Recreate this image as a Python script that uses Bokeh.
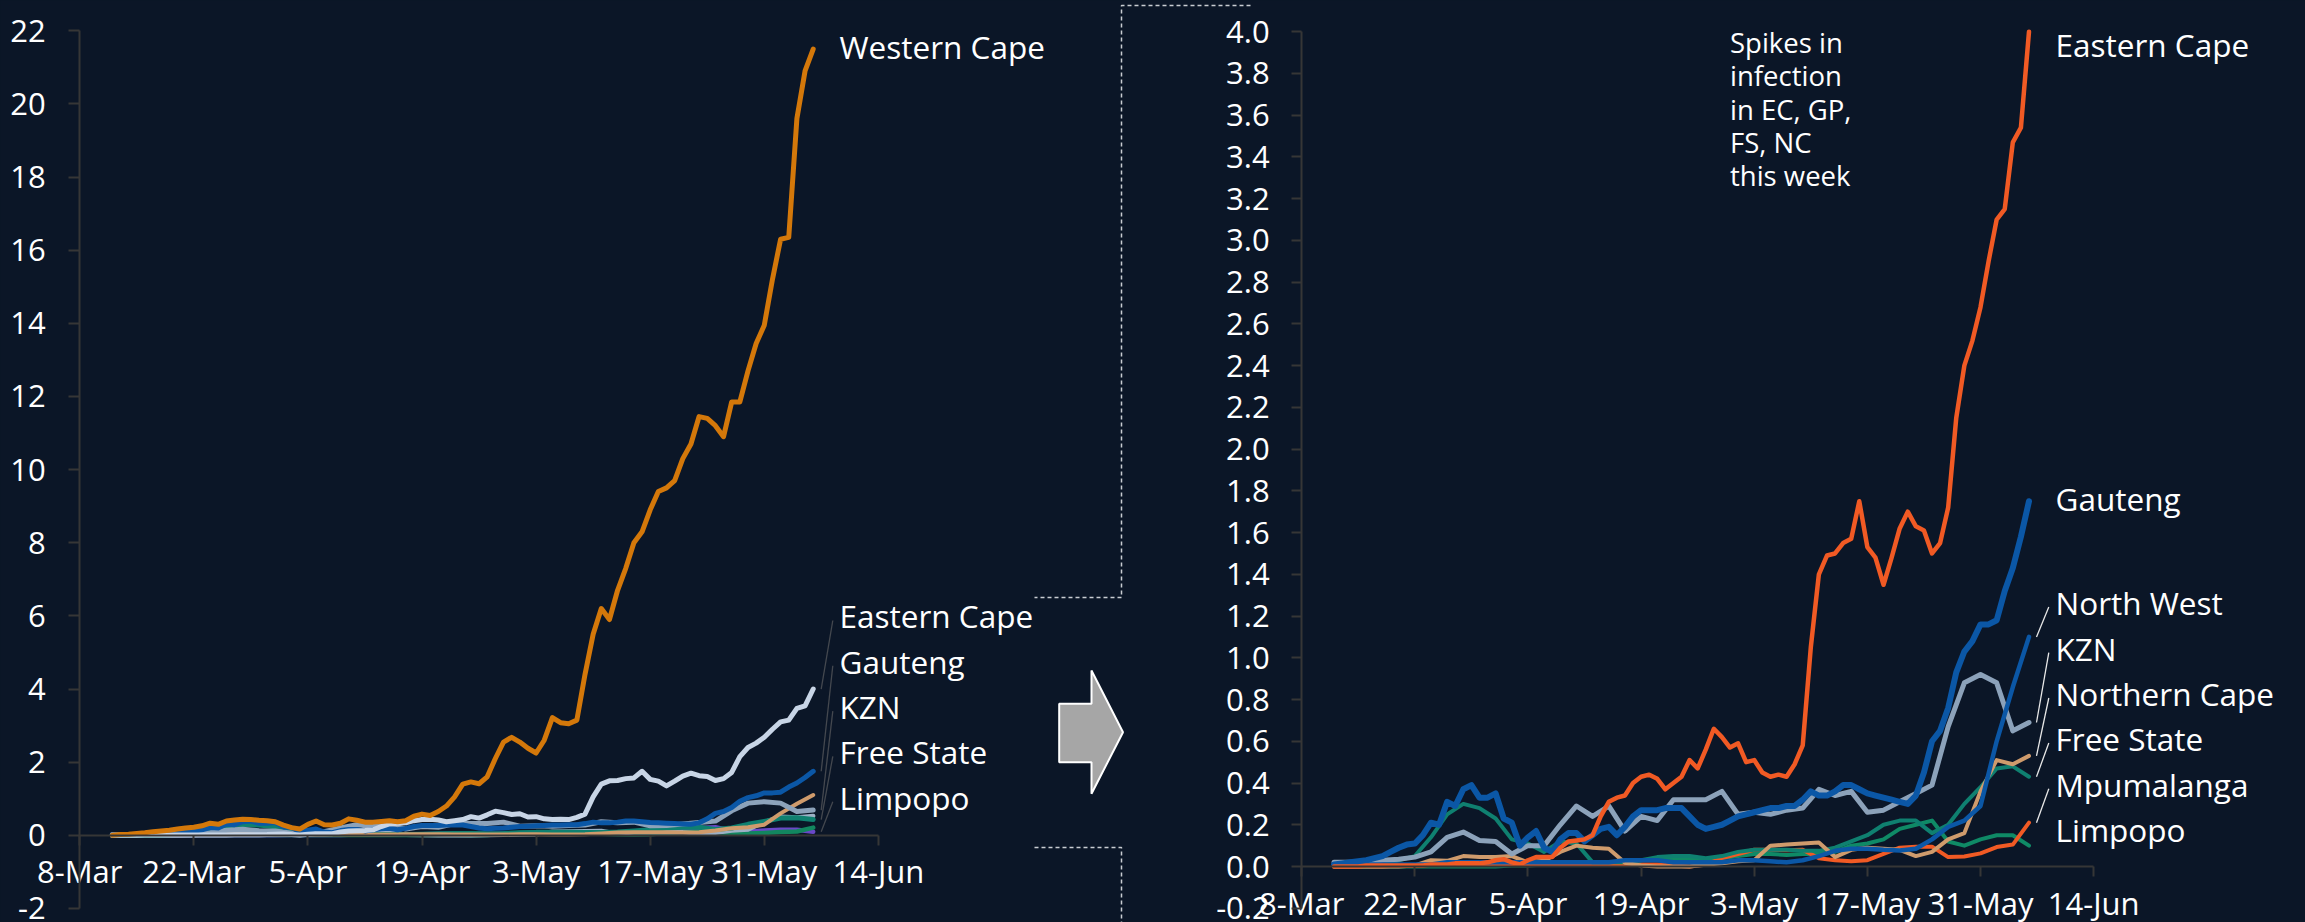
import pandas as pd
from bokeh.plotting import figure
from bokeh.models import Range1d, LinearAxis, FixedTicker, NumeralTickFormatter, ColumnDataSource
from bokeh.core.properties import value
from bokeh.embed import file_html
from bokeh.resources import INLINE

# ---------------- data ----------------
origin = pd.Timestamp("2020-03-08")
daily_dates = pd.date_range("2020-03-12", "2020-06-06", freq="D")
twoday_dates = pd.date_range("2020-03-12", "2020-06-06", freq="2D")

# daily series
western_cape = [
    0.00, 0.02, 0.03, 0.05, 0.07, 0.10, 0.12, 0.14, 0.17, 0.20,
    0.22, 0.26, 0.33, 0.30, 0.39, 0.42, 0.44, 0.43, 0.41, 0.40,
    0.37, 0.28, 0.21, 0.17, 0.30, 0.39, 0.29, 0.28, 0.33, 0.45,
    0.41, 0.36, 0.36, 0.38, 0.40, 0.37, 0.40, 0.52, 0.58, 0.54,
    0.65, 0.80, 1.05, 1.40, 1.46, 1.41, 1.60, 2.10, 2.55, 2.68,
    2.55, 2.38, 2.25, 2.60, 3.22, 3.08, 3.05, 3.15, 4.40, 5.50,
    6.20, 5.90, 6.70, 7.30, 8.00, 8.30, 8.90, 9.40, 9.50, 9.70,
    10.30, 10.70, 11.45, 11.40, 11.20, 10.90, 11.85, 11.85, 12.70, 13.45,
    13.95, 15.20, 16.30, 16.35, 19.60, 20.90, 21.50]
eastern_cape = [
    0.00, 0.00, 0.00, 0.00, 0.005, 0.005, 0.005, 0.005, 0.005, 0.005,
    0.005, 0.005, 0.01, 0.01, 0.01, 0.015, 0.015, 0.015, 0.015, 0.02,
    0.03, 0.035, 0.02, 0.01, 0.03, 0.045, 0.045, 0.045, 0.09, 0.12,
    0.125, 0.13, 0.15, 0.24, 0.31, 0.33, 0.34, 0.40, 0.43, 0.44,
    0.42, 0.37, 0.40, 0.43, 0.51, 0.47, 0.56, 0.66, 0.62, 0.57,
    0.59, 0.50, 0.51, 0.45, 0.43, 0.44, 0.43, 0.49, 0.58, 1.05,
    1.40, 1.49, 1.50, 1.55, 1.57, 1.75, 1.53, 1.48, 1.35, 1.48,
    1.62, 1.70, 1.63, 1.61, 1.50, 1.55, 1.72, 2.15, 2.40, 2.52,
    2.68, 2.90, 3.10, 3.15, 3.47, 3.54, 4.00]
gauteng = [
    0.01, 0.015, 0.02, 0.025, 0.03, 0.04, 0.05, 0.07, 0.09, 0.105,
    0.11, 0.15, 0.21, 0.20, 0.31, 0.29, 0.37, 0.39, 0.33, 0.33,
    0.35, 0.23, 0.21, 0.10, 0.14, 0.17, 0.09, 0.07, 0.13, 0.16,
    0.16, 0.12, 0.15, 0.18, 0.19, 0.15, 0.19, 0.24, 0.27, 0.27,
    0.27, 0.28, 0.28, 0.28, 0.24, 0.20, 0.18, 0.19, 0.20, 0.22,
    0.24, 0.25, 0.26, 0.27, 0.28, 0.28, 0.29, 0.29, 0.32, 0.36,
    0.34, 0.34, 0.36, 0.39, 0.39, 0.37, 0.35, 0.34, 0.33, 0.32,
    0.31, 0.30, 0.34, 0.45, 0.60, 0.65, 0.76, 0.93, 1.03, 1.08,
    1.16, 1.16, 1.18, 1.32, 1.43, 1.58, 1.75]

# every-second-day series
kzn = [0.02, 0.02, 0.025, 0.03, 0.035, 0.045, 0.07, 0.14, 0.165, 0.125, 0.12,
       0.06, 0.10, 0.10, 0.20, 0.29, 0.24, 0.29, 0.17, 0.24, 0.22, 0.32,
       0.32, 0.32, 0.36, 0.25, 0.26, 0.25, 0.27, 0.28, 0.37, 0.34, 0.36,
       0.26, 0.27, 0.31, 0.35, 0.39, 0.67, 0.88, 0.92, 0.88, 0.65, 0.69]
north_west = [0.01, 0.01, 0.01, 0.01, 0.01, 0.01, 0.01, 0.02, 0.02, 0.02, 0.02,
              0.02, 0.02, 0.02, 0.02, 0.02, 0.02, 0.02, 0.03, 0.03, 0.03, 0.02,
              0.02, 0.02, 0.02, 0.03, 0.03, 0.025, 0.02, 0.03, 0.05, 0.075, 0.085,
              0.085, 0.08, 0.077, 0.085, 0.13, 0.19, 0.22, 0.29, 0.60, 0.86, 1.10]
northern_cape = [0.0, 0.0, 0.0, 0.0, 0.0, 0.005, 0.03, 0.027, 0.05, 0.045, 0.045,
                 0.05, 0.02, 0.028, 0.07, 0.10, 0.09, 0.085, 0.018, 0.005, 0.0, 0.0,
                 0.0, 0.008, 0.015, 0.025, 0.03, 0.10, 0.105, 0.11, 0.115, 0.045, 0.08,
                 0.09, 0.085, 0.08, 0.05, 0.07, 0.13, 0.16, 0.36, 0.51, 0.49, 0.53]
free_state = [0.0, 0.0, 0.0, 0.005, 0.03, 0.05, 0.14, 0.25, 0.30, 0.28, 0.23,
              0.13, 0.11, 0.07, 0.12, 0.11, 0.02, 0.02, 0.02, 0.03, 0.045, 0.05,
              0.05, 0.04, 0.05, 0.07, 0.08, 0.08, 0.08, 0.075, 0.075, 0.09, 0.12,
              0.15, 0.20, 0.22, 0.22, 0.16, 0.20, 0.30, 0.38, 0.47, 0.48, 0.43]
mpumalanga = [0.0, 0.0, 0.0, 0.0, 0.005, 0.005, 0.01, 0.01, 0.01, 0.01, 0.01,
              0.01, 0.01, 0.01, 0.01, 0.01, 0.01, 0.01, 0.01, 0.01, 0.01, 0.005,
              0.0, 0.01, 0.04, 0.06, 0.08, 0.08, 0.078, 0.08, 0.04, 0.03, 0.025,
              0.03, 0.06, 0.09, 0.095, 0.095, 0.045, 0.048, 0.063, 0.093, 0.105, 0.21]
limpopo = [0.0, 0.0, 0.0, 0.0, 0.0, 0.0, 0.0, 0.0, 0.0, 0.0, 0.0,
           0.005, 0.005, 0.01, 0.01, 0.02, 0.02, 0.02, 0.025, 0.03, 0.035, 0.04,
           0.04, 0.035, 0.04, 0.05, 0.06, 0.06, 0.055, 0.06, 0.06, 0.07, 0.10,
           0.11, 0.13, 0.18, 0.20, 0.22, 0.12, 0.10, 0.13, 0.15, 0.15, 0.10]

tick_dates = pd.date_range("2020-03-08", "2020-06-14", freq="14D")
tick_labels = ["8-Mar", "22-Mar", "5-Apr", "19-Apr", "3-May", "17-May", "31-May", "14-Jun"]
left_yticks = [-2, 0, 2, 4, 6, 8, 10, 12, 14, 16, 18, 20, 22]
right_yticks = [-0.2, 0.0, 0.2, 0.4, 0.6, 0.8, 1.0, 1.2, 1.4, 1.6, 1.8, 2.0,
                2.2, 2.4, 2.6, 2.8, 3.0, 3.2, 3.4, 3.6, 3.8, 4.0]

note_lines = ["Spikes in", "infection", "in EC, GP,", "FS, NC", "this week"]

series = {
    "Western Cape": (daily_dates, western_cape),
    "Eastern Cape": (daily_dates, eastern_cape),
    "Gauteng": (daily_dates, gauteng),
    "KZN": (twoday_dates, kzn),
    "North West": (twoday_dates, north_west),
    "Northern Cape": (twoday_dates, northern_cape),
    "Free State": (twoday_dates, free_state),
    "Mpumalanga": (twoday_dates, mpumalanga),
    "Limpopo": (twoday_dates, limpopo),
}

# ---------------- layout / style ----------------
W, H = 2305, 922
BG = "#0B1627"
AXC = "#363636"
FONT = "Open Sans"
TXT_SHIFT = 13.0   # svg text sits lower than the measured baseline

L_X0, L_PXD = 79.2, 8.15      # left chart: pixel of 8-Mar, px per day
L_Y0, L_PXU = 834.8, 36.57    # left chart: pixel of 0, px per unit
R_X0, R_PXD = 1301.2, 8.081   # right chart
R_Y0, R_PXU = 866.0, 208.7

left_style = [("Limpopo", "#6A48C8", 4.5), ("Mpumalanga", "#12865F", 4.5),
              ("Northern Cape", "#9CB0C5", 4.5), ("Free State", "#0F8070", 5),
              ("North West", "#CF9B6C", 4), ("KZN", "#8CA2BA", 5),
              ("Gauteng", "#0B57A6", 5), ("Eastern Cape", "#C8D5E6", 5),
              ("Western Cape", "#D4780A", 5)]
right_style = [("Limpopo", "#0F8A66", 4), ("Mpumalanga", "#F15A24", 4),
               ("Free State", "#0F8070", 4), ("Northern Cape", "#CF9B6C", 4),
               ("KZN", "#8CA2BA", 5), ("North West", "#0B57A6", 4.5),
               ("Gauteng", "#0B57A6", 6), ("Eastern Cape", "#F15A24", 4.5)]

p = figure(width=W, height=H, x_range=Range1d(0, W), y_range=Range1d(H, 0),
           x_axis_type=None, y_axis_type=None, toolbar_location=None,
           output_backend="svg", min_border=0,
           background_fill_color=BG, border_fill_color=BG, outline_line_color=None)
p.grid.visible = False

p.extra_x_ranges = {
    "lx": Range1d((0 - L_X0) / L_PXD, (W - L_X0) / L_PXD),
    "rx": Range1d((0 - R_X0) / R_PXD, (W - R_X0) / R_PXD),
}
p.extra_y_ranges = {
    "ly": Range1d((L_Y0 - H) / L_PXU, L_Y0 / L_PXU),
    "ry": Range1d((R_Y0 - H) / R_PXU, R_Y0 / R_PXU),
}


def days(dates):
    return [(d - origin).days for d in dates]


tick_days = days(tick_dates)
overrides = {d: lab for d, lab in zip(tick_days, tick_labels)}


def style_axis(ax, tick_out, standoff):
    ax.axis_line_color = AXC
    ax.axis_line_width = 2
    ax.major_tick_line_color = AXC
    ax.major_tick_line_width = 2
    ax.major_tick_out = tick_out
    ax.major_tick_in = 0
    ax.minor_tick_line_color = None
    ax.major_label_text_font = FONT
    ax.major_label_text_font_size = "31px"
    ax.major_label_text_color = "#FFFFFF"
    ax.major_label_standoff = standoff


# left chart axes
ax = LinearAxis(x_range_name="lx", y_range_name="ly", fixed_location=0, bounds=(-2, 22),
                ticker=FixedTicker(ticks=left_yticks), formatter=NumeralTickFormatter(format="0"))
style_axis(ax, 11, 23)
p.add_layout(ax, "left")
ax = LinearAxis(x_range_name="lx", y_range_name="ly", fixed_location=0,
                bounds=(tick_days[0], tick_days[-1]), ticker=FixedTicker(ticks=tick_days),
                major_label_overrides=overrides)
style_axis(ax, 10, 5)
p.add_layout(ax, "below")

# right chart axes
ax = LinearAxis(x_range_name="rx", y_range_name="ry", fixed_location=0,
                bounds=(right_yticks[0], right_yticks[-1]),
                ticker=FixedTicker(ticks=right_yticks), formatter=NumeralTickFormatter(format="0.0"))
style_axis(ax, 10, 22)
p.add_layout(ax, "left")
ax = LinearAxis(x_range_name="rx", y_range_name="ry", fixed_location=0,
                bounds=(tick_days[0], tick_days[-1]), ticker=FixedTicker(ticks=tick_days),
                major_label_overrides=overrides)
style_axis(ax, 10, 5)
p.add_layout(ax, "below")

# lines
for name, color, lw in left_style:
    dts, vals = series[name]
    src = ColumnDataSource(dict(x=days(dts), y=vals))
    p.line("x", "y", source=src, x_range_name="lx", y_range_name="ly",
           line_color=color, line_width=lw, line_join="round", line_cap="round")
for name, color, lw in right_style:
    dts, vals = series[name]
    src = ColumnDataSource(dict(x=days(dts), y=vals))
    p.line("x", "y", source=src, x_range_name="rx", y_range_name="ry",
           line_color=color, line_width=lw, line_join="round", line_cap="round")


# leader lines (from label to the end of its series)
def left_y(v):
    return L_Y0 - v * L_PXU


def right_y(v):
    return R_Y0 - v * R_PXU


left_labels = ["Western Cape", "Eastern Cape", "Gauteng", "KZN", "Free State", "Limpopo"]
left_base = [59.3, 628.3, 673.6, 718.9, 764.2, 809.5]
right_labels = ["Eastern Cape", "Gauteng", "North West", "KZN", "Northern Cape",
                "Free State", "Mpumalanga", "Limpopo"]
right_base = [57.3, 511.0, 615.0, 660.7, 706.0, 751.0, 796.7, 841.7]

lx0, ly0, lx1, ly1 = [], [], [], []
for name, b in zip(left_labels[1:], left_base[1:]):
    lx0.append(832.3); ly0.append(b - 8.3)
    lx1.append(820.7); ly1.append(left_y(series[name][1][-1]))
p.segment(lx0, ly0, lx1, ly1, line_color="#44484F", line_width=1.3)

rx0, ry0, rx1, ry1 = [], [], [], []
for name, b in zip(right_labels, right_base):
    if name in ("North West", "KZN", "Northern Cape", "Free State", "Mpumalanga"):
        rx0.append(2048.3); ry0.append(b - 8.5)
        rx1.append(2036.0); ry1.append(right_y(series[name][1][-1]))
p.segment(rx0, ry0, rx1, ry1, line_color="#E8E8E8", line_width=1.3)

# labels
p.text(x=[839] * len(left_labels), y=[b - TXT_SHIFT for b in left_base], text=left_labels,
       text_font=value(FONT), text_font_size="31.5px", text_color="#FFFFFF",
       text_align="left", text_baseline="alphabetic")
p.text(x=[2055] * len(right_labels), y=[b - TXT_SHIFT for b in right_base], text=right_labels,
       text_font=value(FONT), text_font_size="31.5px", text_color="#FFFFFF",
       text_align="left", text_baseline="alphabetic")
p.text(x=[1729.5] * len(note_lines),
       y=[55 - TXT_SHIFT + 33.3 * i for i in range(len(note_lines))],
       text=note_lines, text_font=value(FONT), text_font_size="27.5px",
       text_color="#FFFFFF", text_align="left", text_baseline="alphabetic")

# zoom bracket (dashed) and arrow
p.multi_line(xs=[[1250, 1121, 1121, 1034], [1034, 1121, 1121]],
             ys=[[5, 5, 597, 597], [847, 847, 922]],
             line_color="#C9CDD2", line_width=1.5, line_dash="4 3")
p.patch(x=[1058.7, 1091, 1091, 1122.5, 1091, 1091, 1058.7],
        y=[703.3, 703.3, 670, 731.7, 793.3, 761.7, 761.7],
        fill_color="#A6A6A6", line_color="#FFFFFF", line_width=2)

html = file_html(p, INLINE, title="Provinces")
html = html.replace(
    "</head>",
    "<style>html,body{margin:0!important;padding:0!important;background:%s;overflow:hidden;}</style></head>" % BG,
    1)
with open("out.html", "w") as f:
    f.write(html)
